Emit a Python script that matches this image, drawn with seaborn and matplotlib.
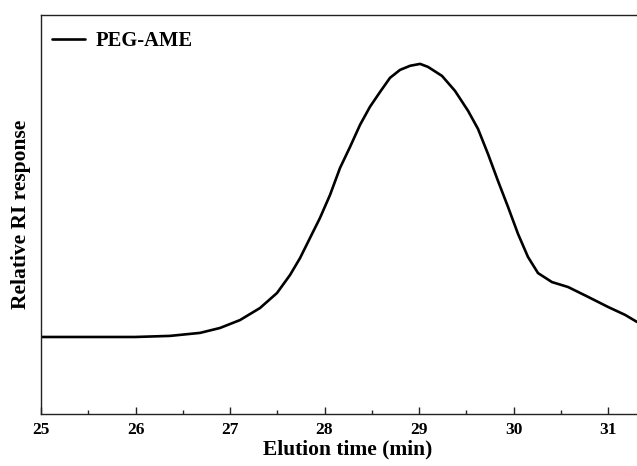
import numpy as np
import pandas as pd
import matplotlib
matplotlib.use("Agg")
import matplotlib.pyplot as plt
from matplotlib.ticker import MultipleLocator
import seaborn as sns

# GPC trace of PEG-AME (RI signal normalised to the peak maximum)
elution_time = [25.000, 25.497, 25.995, 26.365, 26.683, 26.894, 27.106, 27.317,
                27.497, 27.635, 27.741, 27.847, 27.952, 28.058, 28.164, 28.270,
                28.376, 28.481, 28.587, 28.693, 28.799, 28.905, 29.011, 29.095,
                29.243, 29.381, 29.519, 29.624, 29.730, 29.836, 29.942, 30.048,
                30.153, 30.259, 30.407, 30.577, 30.788, 31.000, 31.180, 31.307]
ri_response = [0.000, 0.000, 0.000, 0.004, 0.015, 0.033, 0.062, 0.106,
               0.161, 0.227, 0.289, 0.363, 0.436, 0.520, 0.619, 0.696,
               0.777, 0.843, 0.897, 0.949, 0.978, 0.993, 1.000, 0.989,
               0.956, 0.901, 0.828, 0.762, 0.670, 0.571, 0.476, 0.377,
               0.293, 0.234, 0.201, 0.183, 0.147, 0.110, 0.081, 0.055]
series_name = "PEG-AME"

df = pd.DataFrame({"time": elution_time, "response": ri_response,
                   "sample": series_name})

sns.set_style("ticks")
plt.rcParams["font.family"] = ["Liberation Serif", "DejaVu Serif"]
plt.rcParams["font.weight"] = "bold"
plt.rcParams["text.color"] = "black"
plt.rcParams["axes.labelcolor"] = "black"

fig = plt.figure(figsize=(6.37, 4.66), dpi=100)
ax = fig.add_axes([0.0644, 0.1116, 0.9643, 0.8562])

sns.lineplot(data=df, x="time", y="response", hue="sample",
             palette=["black"], linewidth=1.9, ax=ax, sort=False)
ax.lines[0].set_solid_joinstyle("round")

ax.set_xlim(25, 31.5)
ax.set_ylim(-0.282, 1.179)
ax.xaxis.set_major_locator(MultipleLocator(1))
ax.xaxis.set_minor_locator(MultipleLocator(0.5))
ax.tick_params(axis="x", which="major", direction="in", length=5, width=1,
               labelsize=12.5, pad=6, colors="#222222", labelcolor="black")
ax.tick_params(axis="x", which="minor", direction="in", length=3, width=1,
               colors="#222222")
ax.set_yticks([])
for lab in ax.get_xticklabels():
    lab.set_fontweight("bold")

for s in ax.spines.values():
    s.set_linewidth(1.0)
    s.set_color("#222222")

ax.set_xlabel("Elution time (min)", fontsize=15.5, fontweight="bold",
              labelpad=1, color="black")
ax.set_ylabel("Relative RI response", fontsize=15.5, fontweight="bold",
              labelpad=7, color="black")

leg = ax.legend(loc="upper left", bbox_to_anchor=(0.005, 0.98), frameon=False,
                handlelength=1.6, handletextpad=0.5, borderaxespad=0.0,
                prop={"size": 14.8, "weight": "bold"})
for t in leg.get_texts():
    t.set_color("black")

fig.savefig("out.png", dpi=100)
